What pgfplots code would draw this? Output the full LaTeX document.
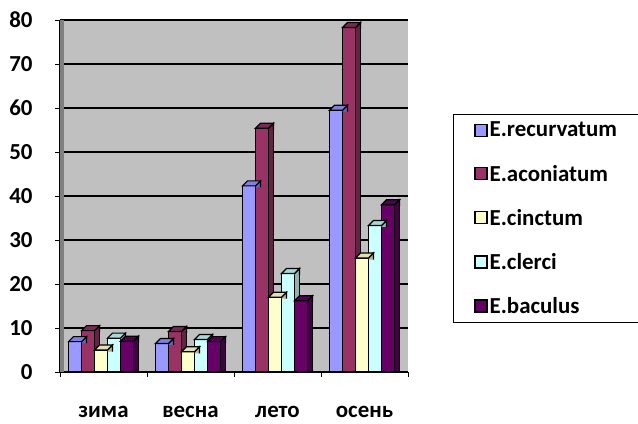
\documentclass[border=0pt]{standalone}
\usepackage{fontspec}
\setmainfont{Carlito}
\usepackage{pgfplots}
\pgfplotsset{compat=1.18}

% bar colours: front, side and top faces
\definecolor{recF}{HTML}{9999FF}\definecolor{recS}{HTML}{6666B3}\definecolor{recT}{HTML}{7F7FE0}
\definecolor{acoF}{HTML}{993366}\definecolor{acoS}{HTML}{662244}\definecolor{acoT}{HTML}{7A2952}
\definecolor{cinF}{HTML}{FFFFCC}\definecolor{cinS}{HTML}{B3B38F}\definecolor{cinT}{HTML}{E0E0B0}
\definecolor{cleF}{HTML}{CCFFFF}\definecolor{cleS}{HTML}{8FB3B3}\definecolor{cleT}{HTML}{A8D8D8}
\definecolor{bacF}{HTML}{660066}\definecolor{bacS}{HTML}{440044}\definecolor{bacT}{HTML}{520052}
\definecolor{wall}{HTML}{C0C0C0}
\definecolor{wallside}{HTML}{808080}

% top face of a bar (13bp wide, 5bp deep)
\pgfdeclareplotmark{topface}{%
  \pgfpathmoveto{\pgfpoint{-6.5bp}{0bp}}%
  \pgfpathlineto{\pgfpoint{6.5bp}{0bp}}%
  \pgfpathlineto{\pgfpoint{11.5bp}{5bp}}%
  \pgfpathlineto{\pgfpoint{-1.5bp}{5bp}}%
  \pgfpathclose
  \pgfusepathqfillstroke}
% upper end of the side face
\pgfdeclareplotmark{sidetri}{%
  \pgfpathmoveto{\pgfpoint{-2.5bp}{-1.5bp}}%
  \pgfpathlineto{\pgfpoint{-2.5bp}{0bp}}%
  \pgfpathlineto{\pgfpoint{2.5bp}{5bp}}%
  \pgfpathlineto{\pgfpoint{2.5bp}{-1.5bp}}%
  \pgfpathclose
  \pgfusepathqfill
  \pgfpathmoveto{\pgfpoint{-2.5bp}{0bp}}%
  \pgfpathlineto{\pgfpoint{2.5bp}{5bp}}%
  \pgfpathlineto{\pgfpoint{2.5bp}{-1.5bp}}%
  \pgfusepathqstroke}

% seasons: 0 = winter, 1 = spring, 2 = summer, 3 = autumn
\pgfplotstableread{
x y
0 6.9
1 6.5
2 42.3
3 59.5
}\recurvatum
\pgfplotstableread{
x y
0 9.4
1 9.2
2 55.4
3 78.3
}\aconiatum
\pgfplotstableread{
x y
0 5.0
1 4.6
2 17.0
3 25.9
}\cinctum
\pgfplotstableread{
x y
0 7.7
1 7.4
2 22.4
3 33.3
}\clerci
\pgfplotstableread{
x y
0 7.0
1 6.9
2 16.2
3 38.0
}\baculus

\newcommand\lbl{\fontsize{23}{27}\selectfont\bfseries}

% one series: side face, then front face with its top
\newcommand\series[5]{% table, front, side, top, front shift (bp)
  \addplot[forget plot, fill=#3, bar width=5bp, bar shift=#5bp+9bp,
    mark=sidetri, mark options={fill=#3, xshift=#5bp+9bp}] table {#1};
  \addplot[fill=#2, bar width=13bp, bar shift=#5bp,
    mark=topface, mark options={fill=#4, xshift=#5bp}] table {#1};
}

\begin{document}
\begin{tikzpicture}
\path[use as bounding box] (0,0) rectangle (638bp,424bp);
\begin{axis}[
  at={(60bp,52bp)}, anchor=south west,
  scale only axis, width=348bp, height=352bp,
  xmin=-0.5, xmax=3.5, ymin=0, ymax=80,
  ybar,
  xtick={0,1,2,3},
  xticklabels={зима,весна,лето,осень},
  major x tick style={draw=none},
  minor xtick={-0.5,0.5,1.5,2.5,3.5},
  ytick={0,10,...,80},
  tick align=outside,
  major tick length=5bp, minor tick length=5bp,
  tick style={black, line width=1bp},
  axis x line*=bottom, axis y line*=left,
  axis line style={black, line width=1.8bp},
  ymajorgrids,
  grid style={black, line width=1.2bp},
  axis background/.style={fill=wall},
  ticklabel style={font=\lbl},
  /pgf/number format/assume math mode=true,
  xticklabel style={yshift=-26bp},
  yticklabel style={xshift=-19bp},
  clip=false,
  every axis plot/.append style={draw=black, line width=1.2bp,
    mark options={draw=black, line width=1.2bp}},
  legend image code/.code={%
    \draw[#1, line width=1.4bp] (0bp,-6bp) rectangle (12bp,6bp);},
  legend style={
    at={(1.129,0.139)}, anchor=south west,
    draw=black, line width=0.8bp,
    font=\lbl, legend cell align=left,
    inner xsep=21bp, inner ysep=6bp, row sep=22.5bp,
  },
]
\fill[wallside] (rel axis cs:0,0) rectangle ([xshift=4bp]rel axis cs:0,1);

\series{\recurvatum}{recF}{recS}{recT}{-28.5}
\addlegendentry{E.recurvatum}
\series{\aconiatum}{acoF}{acoS}{acoT}{-15.5}
\addlegendentry{E.aconiatum}
\series{\cinctum}{cinF}{cinS}{cinT}{-2.5}
\addlegendentry{E.cinctum}
\series{\clerci}{cleF}{cleS}{cleT}{10.5}
\addlegendentry{E.clerci}
\series{\baculus}{bacF}{bacS}{bacT}{23.5}
\addlegendentry{E.baculus}
\end{axis}
\end{tikzpicture}
\end{document}
